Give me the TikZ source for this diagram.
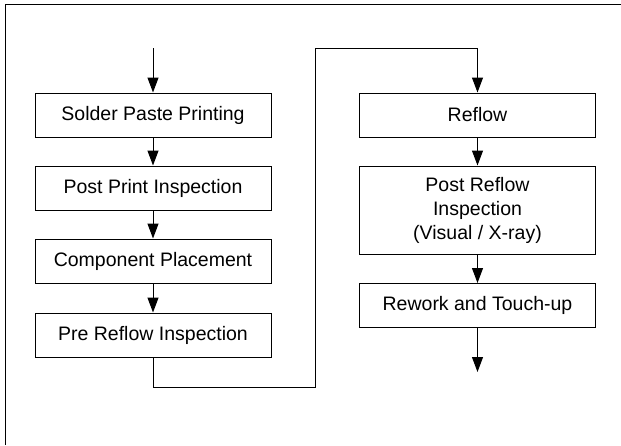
\documentclass[tikz,border=0pt]{standalone}
\usepackage{fontspec}
\setmainfont{Liberation Sans}
\usepackage{tikz}
\usetikzlibrary{arrows.meta}

\begin{document}
\begin{tikzpicture}[x=0.5pt, y=-0.5pt,
        box/.style={draw, line width=0.5pt, minimum width=118pt, minimum height=22pt,
            inner sep=0pt, align=center, font=\fontsize{9.75}{12}\selectfont},
        flow/.style={line width=0.5pt, -{Triangle[length=7.5pt, width=5.5pt]}}]
        \useasboundingbox (0,0) rectangle (621,445);
        \draw[line width=0.8pt] (5.5,445) -- (5.5,4.5) -- (621,4.5);

        \node[box] (print) at (153,115) {Solder Paste Printing};
        \node[box] (ppi) at (153,188) {Post Print Inspection};
        \node[box] (place) at (153,261) {Component Placement};
        \node[box] (pri) at (153,335) {Pre Reflow Inspection};
        \node[box] (reflow) at (477.5,115) {Reflow};
        \node[box, minimum height=44pt] (postri) at (477.5,210) {Post Reflow\\Inspection\\(Visual / X-ray)};
        \node[box] (rework) at (477.5,305.5) {Rework and Touch-up};

        \coordinate (start) at (153,48);
        \coordinate (bend1) at (315,387);
        \coordinate (bend2) at (315,48);
        \coordinate (finish) at (477.5,372);

        \draw[flow] (start) -- (print);
        \draw[flow] (print) -- (ppi);
        \draw[flow] (ppi) -- (place);
        \draw[flow] (place) -- (pri);
        \draw[flow] (pri.south) |- (bend1) -- (bend2) -| (reflow.north);
        \draw[flow] (reflow) -- (postri);
        \draw[flow] (postri) -- (rework);
        \draw[flow] (rework) -- (finish);
    \end{tikzpicture}
\end{document}
